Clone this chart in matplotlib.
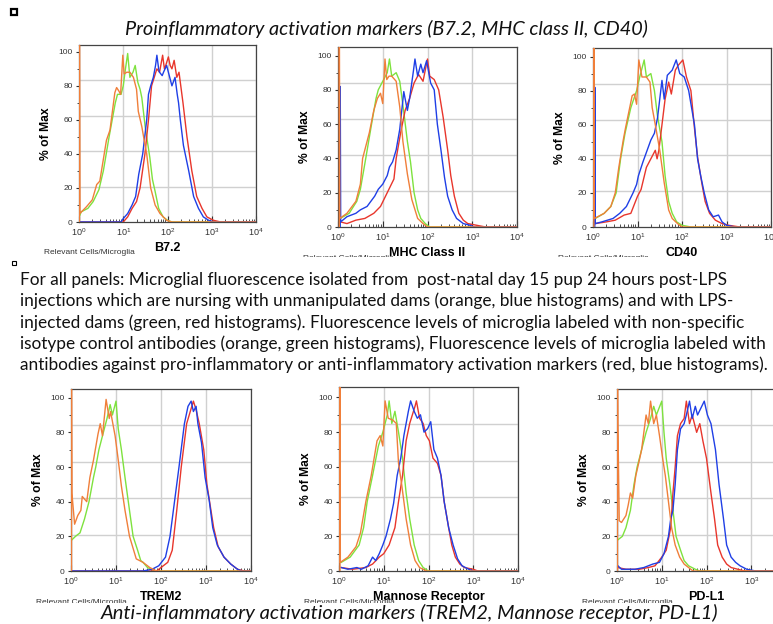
import matplotlib.pyplot as plt
from matplotlib.lines import Line2D
from matplotlib.ticker import LogLocator, MultipleLocator, NullFormatter
from matplotlib.transforms import Bbox, TransformedBbox

plt.rcParams['font.family'] = ['Liberation Sans', 'DejaVu Sans']

# Histogram traces as (log10 fluorescence, % of max)
# orange: isotype, control dam   green: isotype, LPS dam
# red: antibody, LPS dam         blue: antibody, control dam
B72_ORANGE = [(0.01, 0), (0.01, 120), (0.02, 5), (0.17, 9), (0.3, 13), (0.4, 22), (0.47, 24),
              (0.62, 48), (0.7, 54), (0.77, 68), (0.81, 76), (0.85, 79), (0.9, 77), (0.94, 75),
              (0.99, 98), (1.02, 87), (1.08, 88), (1.15, 88), (1.23, 85), (1.3, 78), (1.34, 65),
              (1.42, 56), (1.46, 50), (1.53, 40), (1.62, 20), (1.72, 10), (1.83, 5), (1.98, 1),
              (2.1, 0), (4.0, 0)]
B72_GREEN = [(0.02, 4), (0.05, 6), (0.2, 8), (0.32, 12), (0.45, 19), (0.55, 30), (0.68, 50),
             (0.75, 60), (0.82, 70), (0.87, 75), (0.95, 75), (1.0, 80), (1.05, 90), (1.1, 99),
             (1.15, 85), (1.22, 88), (1.27, 92), (1.33, 82), (1.38, 78), (1.42, 73), (1.5, 55),
             (1.6, 38), (1.66, 25), (1.72, 18), (1.8, 8), (1.9, 3), (2.0, 1), (2.1, 0), (4.0, 0)]
B72_RED = [(0.0, 0), (1.0, 0), (1.1, 3), (1.2, 8), (1.3, 12), (1.38, 20), (1.49, 40), (1.57, 60),
           (1.64, 80), (1.7, 85), (1.76, 90), (1.82, 88), (1.89, 98), (1.93, 90), (1.96, 92),
           (2.02, 97), (2.06, 92), (2.1, 90), (2.15, 95), (2.21, 85), (2.26, 88), (2.3, 80),
           (2.35, 70), (2.44, 50), (2.55, 30), (2.66, 15), (2.78, 8), (2.89, 3), (3.04, 1),
           (3.2, 0), (4.0, 0)]
B72_BLUE = [(0.0, 0), (0.95, 0), (1.0, 2), (1.1, 5), (1.2, 10), (1.28, 15), (1.35, 28), (1.44, 40),
            (1.53, 60), (1.57, 75), (1.62, 80), (1.68, 85), (1.73, 92), (1.76, 98), (1.8, 90),
            (1.82, 88), (1.88, 86), (1.91, 88), (1.98, 92), (2.05, 85), (2.1, 80), (2.17, 85),
            (2.22, 75), (2.25, 70), (2.29, 60), (2.36, 45), (2.48, 30), (2.59, 15), (2.7, 8),
            (2.81, 3), (2.93, 1), (3.04, 0), (4.0, 0)]

MHC_ORANGE = [(0.03, 0), (0.03, 120), (0.04, 5), (0.2, 8), (0.4, 15), (0.5, 25), (0.55, 40),
              (0.6, 45), (0.7, 55), (0.8, 68), (0.88, 75), (0.95, 78), (1.0, 72), (1.05, 98),
              (1.09, 86), (1.14, 88), (1.2, 88), (1.3, 85), (1.38, 70), (1.45, 50), (1.55, 31),
              (1.65, 16), (1.78, 5), (1.9, 2), (2.0, 0), (4.0, 0)]
MHC_GREEN = [(0.05, 5), (0.25, 8), (0.42, 15), (0.5, 22), (0.62, 40), (0.75, 60), (0.85, 75),
             (0.9, 80), (1.0, 85), (1.1, 90), (1.15, 98), (1.2, 88), (1.3, 90), (1.38, 85),
             (1.48, 65), (1.55, 50), (1.62, 38), (1.7, 20), (1.78, 10), (1.85, 5), (1.95, 2),
             (2.05, 0), (4.0, 0)]
MHC_RED = [(0.05, 3), (0.2, 2), (0.4, 4), (0.6, 5), (0.8, 8), (0.95, 12), (1.1, 20), (1.25, 28),
           (1.3, 40), (1.4, 55), (1.5, 68), (1.6, 75), (1.7, 84), (1.8, 89), (1.9, 85), (2.0, 98),
           (2.05, 88), (2.15, 86), (2.25, 80), (2.35, 64), (2.45, 45), (2.52, 30), (2.6, 18),
           (2.7, 8), (2.8, 4), (2.9, 2), (3.1, 1), (3.3, 0), (4.0, 0)]
MHC_BLUE = [(0.05, 0), (0.05, 82), (0.06, 3), (0.2, 6), (0.4, 8), (0.5, 10), (0.65, 12), (0.82, 18),
            (0.9, 22), (1.0, 25), (1.1, 30), (1.15, 35), (1.22, 38), (1.3, 45), (1.38, 57),
            (1.47, 79), (1.55, 68), (1.6, 75), (1.68, 90), (1.72, 98), (1.78, 88), (1.85, 95),
            (1.9, 90), (1.98, 97), (2.07, 84), (2.15, 80), (2.22, 60), (2.3, 45), (2.38, 29),
            (2.45, 18), (2.55, 10), (2.65, 5), (2.8, 2), (2.95, 1), (3.05, 0), (4.0, 0)]

CD40_ORANGE = [(0.02, 0), (0.02, 120), (0.03, 5), (0.25, 8), (0.4, 12), (0.5, 20), (0.58, 35),
               (0.68, 51), (0.73, 58), (0.88, 77), (0.93, 78), (0.98, 72), (1.03, 98), (1.1, 88),
               (1.2, 88), (1.28, 85), (1.33, 70), (1.4, 60), (1.5, 45), (1.6, 26), (1.7, 10),
               (1.78, 5), (1.9, 2), (2.0, 0), (4.0, 0)]
CD40_GREEN = [(0.05, 5), (0.25, 8), (0.4, 12), (0.52, 20), (0.62, 40), (0.72, 55), (0.85, 70),
              (0.98, 80), (1.05, 88), (1.15, 98), (1.2, 88), (1.3, 90), (1.38, 80), (1.45, 65),
              (1.55, 50), (1.62, 30), (1.7, 15), (1.78, 8), (1.88, 3), (2.0, 1), (2.2, 0), (4.0, 0)]
CD40_RED = [(0.05, 2), (0.3, 3), (0.5, 4), (0.7, 7), (0.85, 8), (1.0, 18), (1.08, 22), (1.2, 35),
            (1.3, 40), (1.4, 45), (1.44, 40), (1.48, 45), (1.55, 60), (1.62, 75), (1.7, 85),
            (1.76, 78), (1.85, 92), (1.92, 95), (2.02, 98), (2.1, 88), (2.2, 80), (2.28, 58),
            (2.35, 41), (2.45, 25), (2.52, 15), (2.62, 8), (2.75, 4), (2.9, 2), (3.05, 1),
            (3.3, 0), (4.0, 0)]
CD40_BLUE = [(0.04, 0), (0.04, 82), (0.05, 2), (0.2, 3), (0.45, 5), (0.6, 8), (0.75, 12), (0.9, 20),
             (0.98, 25), (1.02, 30), (1.12, 38), (1.3, 51), (1.38, 55), (1.45, 64), (1.55, 86),
             (1.6, 75), (1.67, 89), (1.78, 92), (1.87, 98), (1.95, 90), (2.05, 88), (2.15, 80),
             (2.28, 60), (2.35, 40), (2.42, 30), (2.5, 20), (2.6, 10), (2.7, 6), (2.82, 7),
             (2.9, 3), (3.0, 1), (3.2, 0), (4.0, 0)]

TREM2_ORANGE = [(0.01, 0), (0.01, 120), (0.02, 45), (0.08, 27), (0.15, 32), (0.22, 35), (0.25, 43),
                (0.35, 40), (0.42, 54), (0.5, 64), (0.6, 79), (0.65, 85), (0.7, 78), (0.78, 99),
                (0.85, 88), (0.88, 92), (0.98, 78), (1.05, 64), (1.12, 49), (1.2, 35), (1.3, 20),
                (1.45, 7), (1.6, 5), (1.75, 2), (1.9, 0), (4.0, 0)]
TREM2_GREEN = [(0.02, 18), (0.1, 20), (0.2, 22), (0.3, 30), (0.4, 40), (0.5, 54), (0.55, 60),
               (0.62, 70), (0.72, 80), (0.8, 88), (0.87, 96), (0.92, 90), (1.0, 98), (1.05, 82),
               (1.12, 70), (1.2, 54), (1.3, 35), (1.38, 20), (1.48, 12), (1.55, 6), (1.6, 5),
               (1.7, 2), (1.85, 0), (4.0, 0)]
TREM2_RED = [(0.0, 0), (1.9, 0), (2.0, 2), (2.15, 5), (2.25, 12), (2.35, 35), (2.45, 60), (2.57, 85),
             (2.65, 92), (2.72, 98), (2.78, 93), (2.85, 85), (2.95, 70), (3.02, 50), (3.08, 40),
             (3.17, 25), (3.27, 14), (3.4, 8), (3.55, 4), (3.7, 1), (3.85, 0), (4.0, 0)]
TREM2_BLUE = [(0.0, 0), (1.6, 0), (1.8, 1), (1.95, 3), (2.1, 8), (2.2, 20), (2.3, 40), (2.4, 60),
              (2.52, 85), (2.6, 95), (2.67, 98), (2.72, 92), (2.78, 95), (2.82, 85), (2.9, 74),
              (2.98, 54), (3.07, 41), (3.15, 25), (3.25, 15), (3.4, 8), (3.55, 4), (3.7, 1),
              (3.8, 0), (4.0, 0)]

MR_ORANGE = [(0.02, 0), (0.02, 120), (0.03, 5), (0.2, 8), (0.38, 14), (0.48, 22), (0.6, 40),
             (0.72, 55), (0.85, 75), (0.92, 78), (0.98, 72), (1.03, 98), (1.1, 88), (1.2, 87),
             (1.28, 85), (1.33, 62), (1.4, 50), (1.5, 30), (1.6, 15), (1.7, 6), (1.8, 2),
             (1.95, 0), (4.0, 0)]
MR_GREEN = [(0.05, 5), (0.25, 8), (0.45, 15), (0.55, 25), (0.63, 40), (0.75, 55), (0.88, 72),
            (0.98, 80), (1.08, 90), (1.12, 98), (1.18, 85), (1.25, 92), (1.33, 80), (1.42, 65),
            (1.5, 45), (1.58, 30), (1.68, 15), (1.78, 6), (1.88, 2), (2.0, 0), (4.0, 0)]
MR_RED = [(0.05, 2), (0.3, 1), (0.6, 2), (0.75, 4), (0.9, 8), (1.0, 10), (1.12, 15), (1.25, 25),
          (1.33, 40), (1.42, 55), (1.5, 75), (1.58, 85), (1.7, 95), (1.73, 98), (1.8, 88),
          (1.88, 85), (1.95, 78), (2.02, 75), (2.1, 65), (2.2, 62), (2.28, 55), (2.35, 40),
          (2.45, 25), (2.52, 15), (2.6, 8), (2.7, 4), (2.8, 2), (3.0, 1), (3.1, 0), (4.0, 0)]
MR_BLUE = [(0.05, 2), (0.2, 1), (0.4, 2), (0.5, 1), (0.65, 3), (0.75, 8), (0.82, 6), (0.9, 10),
           (0.98, 15), (1.05, 20), (1.15, 30), (1.22, 39), (1.3, 55), (1.38, 65), (1.45, 78),
           (1.5, 85), (1.55, 92), (1.6, 98), (1.68, 92), (1.75, 88), (1.82, 90), (1.9, 80),
           (1.98, 82), (2.05, 86), (2.12, 70), (2.2, 65), (2.28, 55), (2.35, 40), (2.45, 25),
           (2.55, 15), (2.65, 7), (2.75, 3), (2.9, 1), (3.0, 0), (4.0, 0)]

PDL1_ORANGE = [(0.01, 0), (0.01, 120), (0.02, 85), (0.05, 29), (0.1, 28), (0.2, 32), (0.25, 38),
               (0.3, 45), (0.35, 42), (0.42, 55), (0.5, 64), (0.55, 70), (0.6, 80), (0.65, 90),
               (0.7, 85), (0.75, 98), (0.82, 85), (0.88, 90), (0.95, 78), (1.02, 65), (1.08, 55),
               (1.15, 40), (1.22, 25), (1.3, 15), (1.4, 8), (1.5, 4), (1.6, 2), (1.7, 0), (4.0, 0)]
PDL1_GREEN = [(0.02, 18), (0.12, 20), (0.2, 25), (0.3, 35), (0.38, 50), (0.45, 60), (0.55, 70),
              (0.65, 80), (0.75, 88), (0.82, 95), (0.88, 90), (1.0, 98), (1.05, 80), (1.1, 65),
              (1.18, 50), (1.25, 35), (1.32, 20), (1.42, 12), (1.5, 6), (1.6, 3), (1.75, 1),
              (1.85, 0), (4.0, 0)]
PDL1_RED = [(0.02, 2), (0.2, 1), (0.5, 1), (0.7, 2), (0.85, 3), (1.0, 8), (1.1, 12), (1.2, 25),
            (1.25, 45), (1.3, 60), (1.35, 78), (1.42, 85), (1.5, 88), (1.55, 98), (1.62, 85),
            (1.68, 90), (1.78, 80), (1.85, 85), (1.92, 75), (2.0, 65), (2.1, 45), (2.18, 30),
            (2.25, 15), (2.35, 8), (2.45, 4), (2.55, 2), (2.7, 1), (2.85, 0), (4.0, 0)]
PDL1_BLUE = [(0.02, 3), (0.1, 1), (0.4, 1), (0.6, 2), (0.8, 4), (0.95, 5), (1.05, 10), (1.15, 20),
             (1.2, 30), (1.25, 35), (1.3, 50), (1.35, 70), (1.42, 82), (1.5, 85), (1.55, 90),
             (1.62, 98), (1.68, 88), (1.75, 95), (1.8, 90), (1.95, 98), (2.02, 90), (2.1, 85),
             (2.2, 70), (2.28, 50), (2.38, 30), (2.45, 15), (2.55, 8), (2.65, 5), (2.75, 3),
             (2.9, 1), (3.1, 0), (4.0, 0)]

MARKERS = ["B7.2", "MHC Class II", "CD40", "TREM2", "Mannose Receptor", "PD-L1"]
TRACES = [
    (B72_GREEN, B72_RED, B72_BLUE, B72_ORANGE),
    (MHC_GREEN, MHC_RED, MHC_BLUE, MHC_ORANGE),
    (CD40_GREEN, CD40_RED, CD40_BLUE, CD40_ORANGE),
    (TREM2_GREEN, TREM2_RED, TREM2_BLUE, TREM2_ORANGE),
    (MR_GREEN, MR_RED, MR_BLUE, MR_ORANGE),
    (PDL1_GREEN, PDL1_RED, PDL1_BLUE, PDL1_ORANGE),
]
COLORS = ['#7ee23e', '#e8362c', '#1f3fe6', '#f07f3a']

TITLE_TOP = "Proinflammatory activation markers (B7.2, MHC class II, CD40)"
TITLE_BOTTOM = "Anti-inflammatory activation markers (TREM2, Mannose receptor, PD-L1)"
CAPTION = [
    "For all panels: Microglial fluorescence isolated from  post-natal day 15 pup 24 hours post-LPS",
    "injections which are nursing with unmanipulated dams (orange, blue histograms) and with LPS-",
    "injected dams (green, red histograms). Fluorescence levels of microglia labeled with non-specific",
    "isotype control antibodies (orange, green histograms), Fluorescence levels of microglia labeled with",
    "antibodies against pro-inflammatory or anti-inflammatory activation markers (red, blue histograms).",
]

# panel boxes in pixels: left, top, right, bottom
W, H = 773, 624
BOXES = [(79, 45, 256, 222), (338, 47, 517, 227), (593, 48, 771, 227),
         (71, 389, 251, 571), (339, 387, 518, 571), (617, 389, 796, 571)]
Y_TOP = [104, 105, 105, 105, 106, 105]
CLIP_Y = [None, 257, 257, 602.5, 602.5, 602.5]

fig = plt.figure(figsize=(W / 100, H / 100), dpi=100)


def fit_width(t, width_px):
    r = fig.canvas.get_renderer()
    w = t.get_window_extent(r).width
    t.set_fontsize(t.get_fontsize() * width_px / w)


for i, (name, traces) in enumerate(zip(MARKERS, TRACES)):
    l, t, r, b = BOXES[i]
    w_px, h_px = r - l, b - t
    ax = fig.add_axes([l / W, 1 - b / H, w_px / W, h_px / H])
    for trace, color in zip(traces, COLORS):
        xs = [10 ** p[0] for p in trace]
        ys = [p[1] for p in trace]
        ax.plot(xs, ys, color=color, lw=1.0, zorder=3)
    ax.set_xscale('log')
    ax.set_xlim(1, 1e4)
    ax.set_ylim(0, Y_TOP[i])
    ax.xaxis.set_major_locator(LogLocator(base=10, numticks=10))
    ax.xaxis.set_minor_locator(LogLocator(base=10, subs=range(2, 10), numticks=20))
    ax.xaxis.set_minor_formatter(NullFormatter())
    ax.set_yticks([0, 20, 40, 60, 80, 100])
    ax.yaxis.set_minor_locator(MultipleLocator(10))
    ax.tick_params(axis='x', which='major', direction='in', length=4, width=0.8,
                   labelsize=6.5, pad=3, colors='#333333')
    ax.tick_params(axis='x', which='minor', direction='in', length=2.5, width=0.6, colors='#333333')
    ax.tick_params(axis='y', which='major', direction='out', length=2.5, width=0.8,
                   labelsize=6, pad=2, colors='#333333')
    ax.tick_params(axis='y', which='minor', direction='out', length=1.5, width=0.6, colors='#333333')
    ax.grid(axis='x', which='major', color='#d0d0d0', lw=1.0, zorder=0)
    for f in (0.2, 0.4, 0.6, 0.8):
        ax.axhline(f * Y_TOP[i], color='#d0d0d0', lw=1.0, zorder=0)
    for sp in ax.spines.values():
        sp.set_color('#444444')
        sp.set_linewidth(0.9)

    ax.set_xlabel(name, fontsize=9, fontweight='bold')
    ax.xaxis.label.set_va('center')
    ax.xaxis.set_label_coords(0.5, -26 / h_px)
    ax.set_ylabel('% of Max', fontsize=8.7, fontweight='bold')
    ax.yaxis.label.set_va('center')
    ax.yaxis.set_label_coords(-33 / w_px, 0.5)

    note = fig.text((l - 35) / W, 1 - (b + 31) / H, 'Relevant Cells/Microglia',
                    fontsize=6, color='#333333', va='center', ha='left')
    if CLIP_Y[i] is not None:
        note.set_clip_box(TransformedBbox(Bbox([[0, 1 - CLIP_Y[i] / H], [1, 1]]), fig.transFigure))

# bullet squares
fig.add_artist(Line2D([13.5 / W], [1 - 12 / H], marker='s', ms=4.8, mfc='white', mec='black',
                      mew=1.6, transform=fig.transFigure))
fig.add_artist(Line2D([13.5 / W], [1 - 263.5 / H], marker='s', ms=2.4, mfc='white', mec='black',
                      mew=0.8, transform=fig.transFigure))

t1 = fig.text(386 / W, 1 - 35 / H, TITLE_TOP, family=['Lato', 'DejaVu Sans'], style='italic',
              fontsize=14, ha='center', va='baseline', color='#111111')
fit_width(t1, 526)
t2 = fig.text(409.5 / W, 1 - 619 / H, TITLE_BOTTOM, family=['Lato', 'DejaVu Sans'], style='italic',
              fontsize=14, ha='center', va='baseline', color='#111111')
fit_width(t2, 619)

baselines = [285, 306.5, 328, 349, 370]
lines = []
for txt, yb in zip(CAPTION, baselines):
    lines.append(fig.text(20 / W, 1 - yb / H, txt, family=['Lato', 'DejaVu Sans'], fontsize=12,
                          ha='left', va='baseline', color='#111111'))
fit_width(lines[-1], 747)
for ln in lines[:-1]:
    ln.set_fontsize(lines[-1].get_fontsize())

fig.savefig('out.png', dpi=100)
